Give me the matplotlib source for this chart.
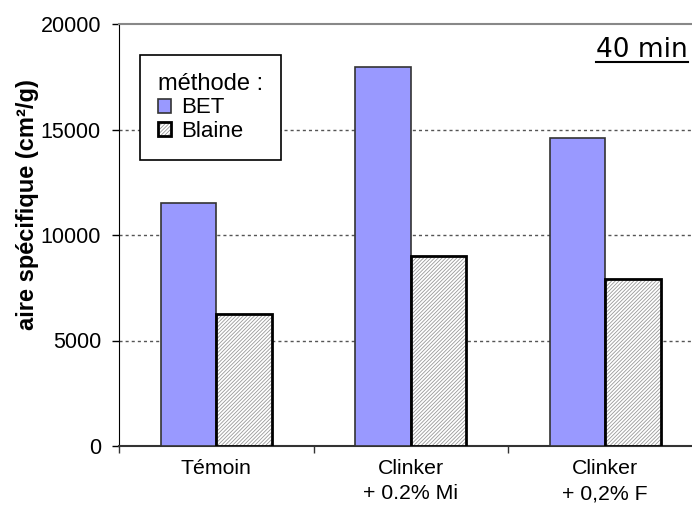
import matplotlib
matplotlib.use("Agg")
import matplotlib.pyplot as plt
from matplotlib.lines import Line2D
import numpy as np

plt.rcParams['font.family'] = ['Liberation Sans', 'DejaVu Sans']
plt.rcParams['hatch.linewidth'] = 0.6

# data
categories = ['Témoin', 'Clinker\n+ 0.2% Mi', 'Clinker\n+ 0,2% F']
bet = [11500, 17950, 14600]
blaine = [6250, 9000, 7900]

fig = plt.figure(figsize=(6.92, 5.07), dpi=100)
ax = fig.add_axes([119 / 692, 61 / 507, 1 - 119 / 692, 422 / 507])

x = np.arange(len(categories))
w = 0.285

b1 = ax.bar(x - w / 2, bet, w, color='#9999ff', edgecolor='#333333', linewidth=1.2, zorder=3)
# hatched fill in grey, then a black outline on top
b2h = ax.bar(x + w / 2, blaine, w, color='white', edgecolor='#999999', linewidth=0,
             hatch='/' * 9, zorder=3)
b2o = ax.bar(x + w / 2, blaine, w, fill=False, edgecolor='black', linewidth=2, zorder=4)

ax.set_xlim(-0.5, -0.5 + 573 / 194.5)
ax.set_ylim(0, 20000)
ax.set_yticks([0, 5000, 10000, 15000, 20000])
ax.set_xticks(x)
ax.set_xticklabels(categories, fontsize=15.3, linespacing=1.45)
ax.set_xticks(np.arange(len(categories)) - 0.5, minor=True)
ax.tick_params(axis='x', which='major', length=0, pad=9)
ax.tick_params(axis='x', which='minor', length=5, width=1, color='#333333', direction='out')
ax.tick_params(axis='y', length=5, width=1, direction='out', pad=8, labelsize=15.5)

for v in [5000, 10000, 15000]:
    ax.axhline(v, color='#555555', linewidth=1, linestyle=(0, (2.2, 2.2)), zorder=1)

ax.spines['top'].set_color('#888888')
ax.spines['top'].set_linewidth(1.5)
ax.spines['right'].set_visible(False)
ax.spines['left'].set_color('black')
ax.spines['bottom'].set_color('#333333')
ax.spines['bottom'].set_linewidth(1.5)

ax.set_ylabel('aire spécifique (cm²/g)', fontsize=17, fontweight='bold')
ax.yaxis.set_label_coords(-0.1396, 0.571)

leg = ax.legend([b1[0], (b2h[0], b2o[0])], ['BET', 'Blaine'], title='méthode :',
                loc='upper left', bbox_to_anchor=(140 / 692, 452 / 507),
                bbox_transform=fig.transFigure, borderaxespad=0,
                fontsize=16, title_fontsize=17, alignment='left',
                frameon=True, fancybox=False, edgecolor='black', framealpha=1,
                borderpad=0.8, handlelength=0.6, handleheight=0.6,
                handletextpad=0.45, labelspacing=0.12)
leg.get_frame().set_linewidth(1.2)
leg.set_zorder(5)

t = fig.text(688 / 692, 450 / 507, '40 min', ha='right', va='baseline',
             fontsize=19, family='DejaVu Sans')

# underline under "40 min"
fig.canvas.draw()
bb = t.get_window_extent()
yl = bb.y0 + 1
fig.add_artist(Line2D([bb.x0 / 692, bb.x1 / 692], [yl / 507, yl / 507],
                      transform=fig.transFigure, color='black', linewidth=1.5))

fig.savefig('out.png', dpi=100)
